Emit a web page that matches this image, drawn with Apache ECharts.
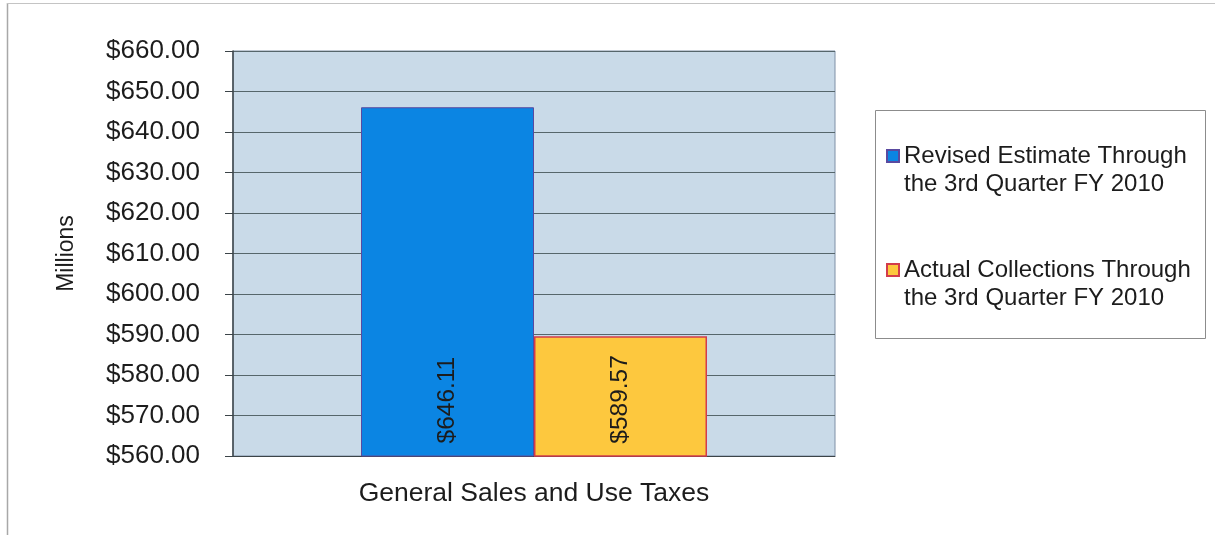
<!DOCTYPE html>
<html>
<head>
<meta charset="utf-8">
<script src="https://cdn.jsdelivr.net/npm/echarts@6/dist/echarts.min.js"></script>
<style>
  html, body { margin: 0; padding: 0; background: #ffffff; }
  #chart { width: 1215px; height: 535px; }
</style>
</head>
<body>
<div id="chart"></div>
<script>
const categories = ['General Sales and Use Taxes'];
const seriesNames = [
  'Revised Estimate Through\nthe 3rd Quarter FY 2010',
  'Actual Collections Through\nthe 3rd Quarter FY 2010'
];
const revisedEstimate = [646.11];
const actualCollections = [589.57];
const yMin = 560, yMax = 660, yStep = 10;

const FONT = '"Liberation Sans", Arial, sans-serif';
const chart = echarts.init(document.getElementById('chart'));

const labelOpt = {
  show: true,
  position: 'insideBottom',
  rotate: 90,
  distance: 13,
  align: 'left',
  verticalAlign: 'middle',
  fontFamily: FONT,
  fontSize: 24.5,
  color: '#1c1c1c',
  formatter: p => '$' + p.value.toFixed(2)
};

// legend marker: 12x12 square sitting at the top of a 12x40 box (so it lines up with the first text line)
const legendIcon = 'path://M0,0L12,0L12,12L0,12Z M0,40L0,40';

chart.setOption({
  animation: false,
  textStyle: { fontFamily: FONT },
  graphic: [
    { type: 'line', shape: { x1: 7.5, y1: 3, x2: 7.5, y2: 535 }, style: { stroke: '#a8a8a8', lineWidth: 1.5 }, silent: true },
    { type: 'line', shape: { x1: 7, y1: 3.5, x2: 1215, y2: 3.5 }, style: { stroke: '#c4c4c4', lineWidth: 1 }, silent: true },
    { type: 'rect', shape: { x: 875.5, y: 110.5, width: 330, height: 228 }, style: { fill: '#ffffff', stroke: '#8c8c8c', lineWidth: 1 }, silent: true, z: -1 }
  ],
  grid: {
    left: 233, right: 380, top: 51, bottom: 79,
    show: true,
    backgroundColor: '#c9dae8',
    borderColor: '#7f90a6',
    borderWidth: 1
  },
  legend: {
    orient: 'vertical',
    left: 886, top: 142,
    padding: 0,
    itemGap: 58,
    itemWidth: 12, itemHeight: 40,
    icon: legendIcon,
    data: seriesNames,
    textStyle: { fontFamily: FONT, fontSize: 24, lineHeight: 28, color: '#1c1c1c' }
  },
  xAxis: {
    type: 'category',
    data: categories,
    axisLine: { lineStyle: { color: '#3c4448', width: 1 } },
    axisTick: { show: false },
    axisLabel: { fontFamily: FONT, fontSize: 26.5, color: '#1c1c1c', margin: 24 }
  },
  yAxis: {
    type: 'value',
    min: yMin, max: yMax, interval: yStep,
    name: 'Millions',
    nameLocation: 'middle',
    nameGap: 155,
    nameRotate: 90,
    nameTextStyle: { fontFamily: FONT, fontSize: 23, color: '#1c1c1c' },
    axisLine: { show: true, lineStyle: { color: '#3c4448', width: 1.5 } },
    axisTick: { show: true, inside: false, length: 8, lineStyle: { color: '#3c4448' } },
    axisLabel: { fontFamily: FONT, fontSize: 26, color: '#1c1c1c', margin: 33, formatter: v => '$' + v.toFixed(2) },
    splitLine: { show: true, lineStyle: { color: '#56666b', width: 1 } }
  },
  series: [
    {
      name: seriesNames[0],
      type: 'bar',
      data: revisedEstimate,
      barWidth: 173,
      barGap: '0%',
      itemStyle: { color: '#0b85e3', borderColor: '#5a4aa0', borderWidth: 1 },
      label: labelOpt
    },
    {
      name: seriesNames[1],
      type: 'bar',
      data: actualCollections,
      barWidth: 173,
      barGap: '0%',
      itemStyle: { color: '#fdc83e', borderColor: '#d33c4b', borderWidth: 1.5 },
      label: labelOpt
    }
  ]
});
</script>
</body>
</html>
